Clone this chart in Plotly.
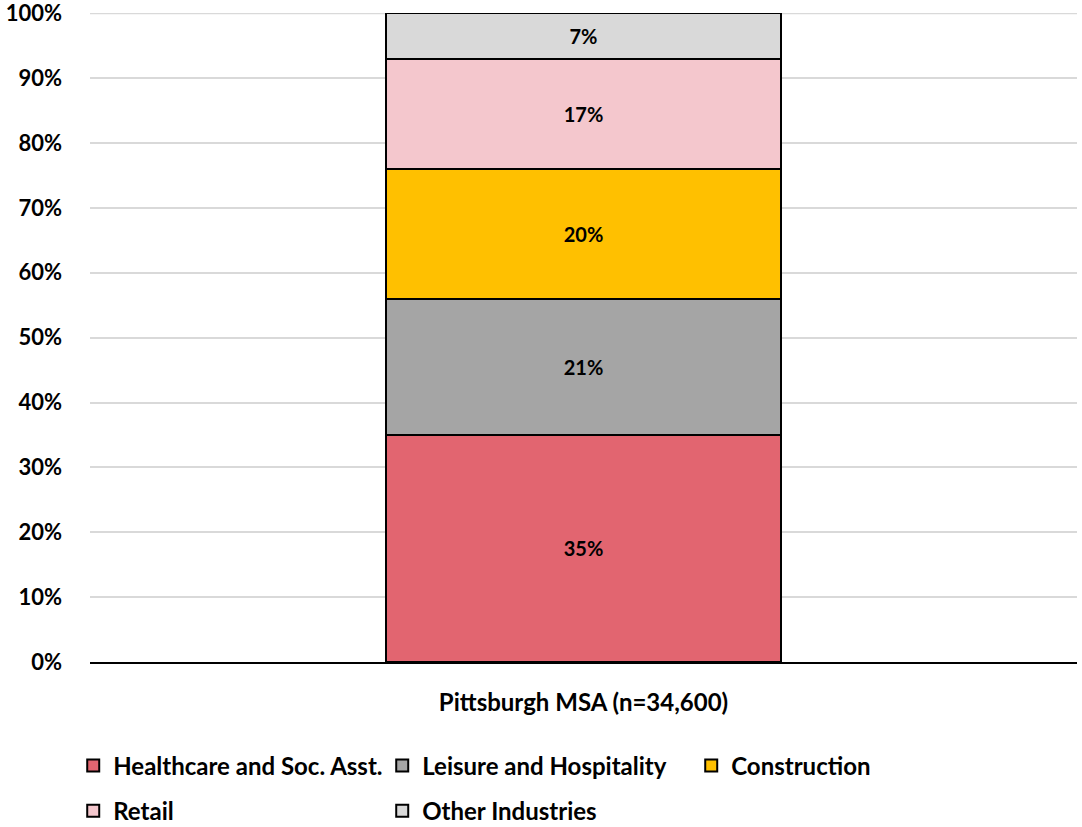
import plotly.graph_objects as go

# Share of employment by industry, Pittsburgh MSA
category = ["Pittsburgh MSA (n=34,600)"]
industries = ["Healthcare and Soc. Asst.", "Leisure and Hospitality", "Construction",
              "Retail", "Other Industries"]
shares = [35, 21, 20, 17, 7]
colors = ["#E26570", "#A5A5A5", "#FFC000", "#F4C7CD", "#D9D9D9"]
legend_rows = ["legend", "legend", "legend", "legend2", "legend2"]
y_ticks = list(range(0, 101, 10))
y_tick_labels = [f"{v}%" for v in y_ticks]

FONT = "Lato"

fig = go.Figure()
for name, val, col, lg in zip(industries, shares, colors, legend_rows):
    fig.add_trace(go.Bar(
        x=category, y=[val], name=name,
        marker=dict(color=col, line=dict(color="#000000", width=2)),
        text=[f"{val}%"], textposition="inside", insidetextanchor="middle",
        textfont=dict(family=FONT, size=20, color="#000000", weight="bold"),
        width=0.401, legend=lg,
    ))

legend_common = dict(
    orientation="h", xanchor="left", yanchor="middle",
    font=dict(family=FONT, size=24, color="#000000", weight="bold"),
    entrywidth=264, entrywidthmode="pixels", traceorder="normal",
    bgcolor="rgba(0,0,0,0)", itemclick=False,
)

fig.update_layout(
    width=1082, height=827,
    margin=dict(l=90, r=5, t=13, b=165, autoexpand=False),
    barmode="stack",
    plot_bgcolor="white", paper_bgcolor="white",
    font=dict(family=FONT, color="#000000"),
    legend=dict(x=-0.017, y=-0.16, **legend_common),
    legend2=dict(x=-0.017, y=-0.23, **legend_common),
    uniformtext=dict(mode="show", minsize=10),
)
# top gridline at the upper edge of the value range
fig.add_shape(type="line", xref="paper", yref="y", x0=0, x1=1,
              y0=y_ticks[-1], y1=y_ticks[-1],
              line=dict(color="#D9D9D9", width=2), layer="below")
fig.update_yaxes(
    range=[0, 100.05], tickvals=y_ticks, ticktext=y_tick_labels,
    showgrid=True, gridcolor="#D9D9D9", gridwidth=2,
    zeroline=False, showline=False, automargin=False,
    ticklabeloverflow="allow",
    tickfont=dict(family=FONT, size=22, color="#000000", weight="bold"),
    ticklabelstandoff=27,
)
fig.update_xaxes(
    showline=True, linecolor="#000000", linewidth=2, automargin=False,
    tickfont=dict(family=FONT, size=24, color="#000000", weight="bold"),
    ticklabelstandoff=18,
)

fig.write_html("out.html")
